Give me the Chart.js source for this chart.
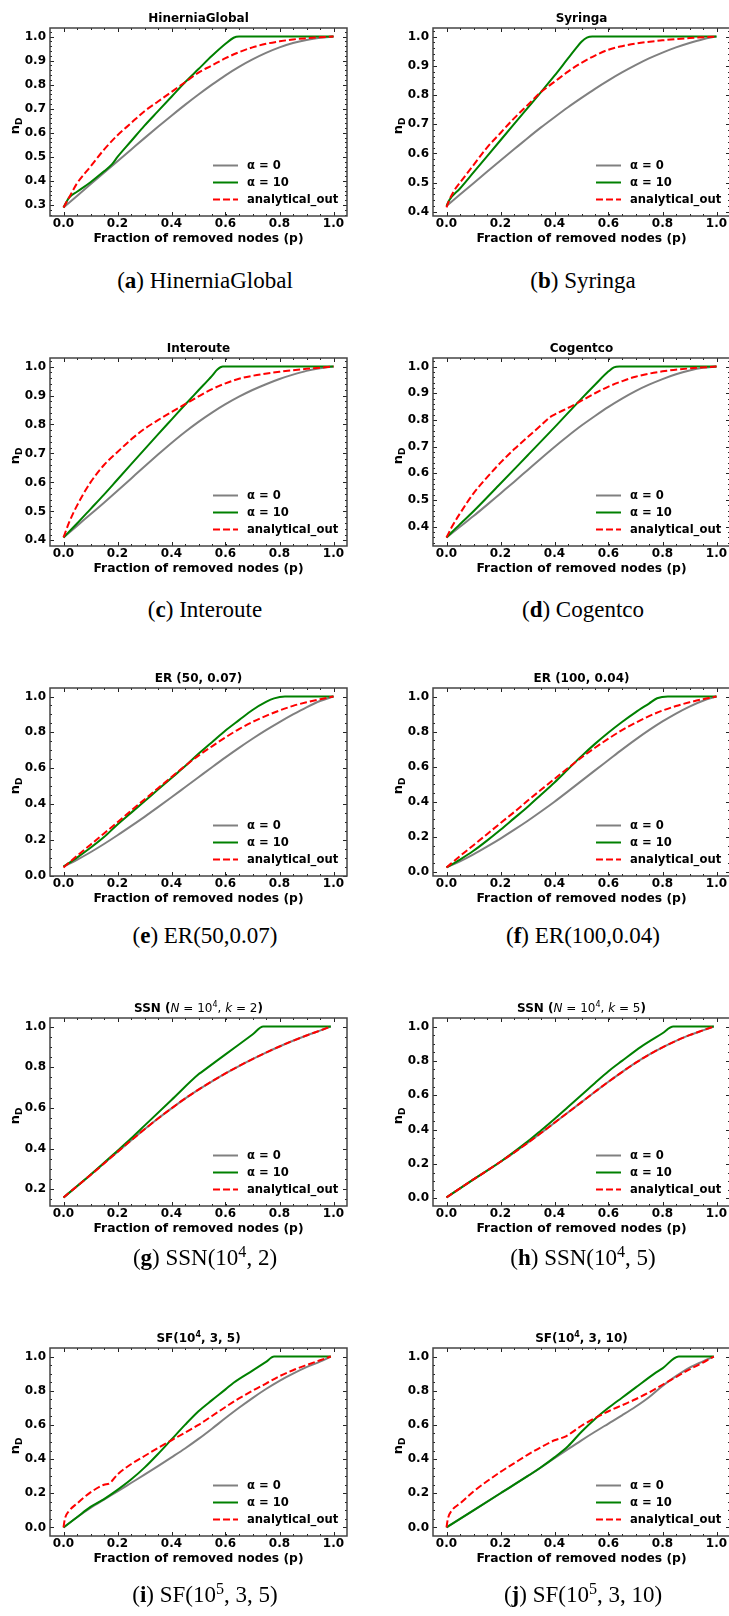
<!DOCTYPE html>
<html>
<head>
<meta charset="utf-8">
<script src="https://cdn.jsdelivr.net/npm/chart.js"></script>
<style>
  body { margin: 0; width: 729px; height: 1616px; overflow: hidden; background: #fff; position: relative; }
  canvas { position: absolute; }
  .cap { position: absolute; font-family: "Liberation Serif", "DejaVu Serif", serif; font-size: 23px; line-height: 24px;
         transform: translateX(-50%); white-space: nowrap; color: #000; }
  .cap sup { font-size: 0.7em; line-height: 0; vertical-align: 0.5em; }
</style>
</head>
<body>
<script>
// values: [p, n_D]
const hgA0 = [[0,0.29],[0.05,0.338],[0.1,0.386],[0.15,0.434],[0.2,0.482],[0.25,0.53],[0.3,0.578],[0.35,0.625],[0.4,0.671],[0.45,0.716],[0.5,0.759],[0.55,0.8],[0.6,0.839],[0.65,0.874],[0.7,0.905],[0.75,0.932],[0.8,0.955],[0.85,0.973],[0.9,0.986],[0.95,0.995],[1,1]];
const hgA10 = [[0,0.29],[0.02,0.33],[0.05,0.355],[0.1,0.395],[0.15,0.44],[0.18,0.47],[0.2,0.5],[0.25,0.565],[0.3,0.63],[0.35,0.69],[0.4,0.75],[0.45,0.81],[0.5,0.865],[0.55,0.92],[0.6,0.97],[0.63,0.995],[0.65,1],[1,1]];
const hgOut = [[0,0.29],[0.02,0.33],[0.05,0.39],[0.1,0.46],[0.15,0.53],[0.2,0.59],[0.25,0.64],[0.3,0.69],[0.35,0.73],[0.4,0.77],[0.45,0.81],[0.5,0.85],[0.55,0.88],[0.6,0.91],[0.65,0.935],[0.7,0.955],[0.75,0.97],[0.8,0.98],[0.85,0.988],[0.9,0.993],[0.95,0.997],[1,1]];

const syA0 = [[0,0.42],[0.05,0.459],[0.1,0.498],[0.15,0.537],[0.2,0.576],[0.25,0.614],[0.3,0.652],[0.35,0.689],[0.4,0.724],[0.45,0.758],[0.5,0.79],[0.55,0.821],[0.6,0.85],[0.65,0.877],[0.7,0.902],[0.75,0.925],[0.8,0.945],[0.85,0.963],[0.9,0.978],[0.95,0.991],[1,1]];
const syA10 = [[0,0.42],[0.01,0.44],[0.05,0.48],[0.1,0.535],[0.15,0.59],[0.2,0.645],[0.25,0.7],[0.3,0.755],[0.35,0.81],[0.4,0.866],[0.45,0.925],[0.48,0.96],[0.5,0.982],[0.52,0.996],[0.54,1],[1,1]];
const syOut = [[0,0.415],[0.01,0.44],[0.03,0.475],[0.05,0.5],[0.1,0.56],[0.15,0.62],[0.2,0.67],[0.25,0.72],[0.3,0.765],[0.35,0.81],[0.4,0.845],[0.45,0.88],[0.5,0.91],[0.55,0.935],[0.6,0.955],[0.65,0.967],[0.7,0.976],[0.8,0.987],[0.9,0.995],[1,1]];

const irA0 = [[0,0.41],[0.05,0.45],[0.1,0.49],[0.15,0.53],[0.2,0.571],[0.25,0.613],[0.3,0.655],[0.35,0.696],[0.4,0.736],[0.45,0.774],[0.5,0.809],[0.55,0.841],[0.6,0.87],[0.65,0.896],[0.7,0.919],[0.75,0.939],[0.8,0.957],[0.85,0.972],[0.9,0.985],[0.95,0.994],[1,1]];
const irA10 = [[0,0.41],[0.05,0.458],[0.1,0.508],[0.15,0.558],[0.2,0.61],[0.25,0.662],[0.3,0.714],[0.35,0.766],[0.4,0.817],[0.45,0.868],[0.5,0.918],[0.55,0.968],[0.57,0.99],[0.59,1],[1,1]];
const irOut = [[0,0.41],[0.02,0.46],[0.05,0.52],[0.1,0.6],[0.15,0.66],[0.2,0.705],[0.25,0.748],[0.3,0.785],[0.35,0.815],[0.4,0.843],[0.45,0.87],[0.5,0.897],[0.55,0.922],[0.6,0.942],[0.65,0.958],[0.7,0.968],[0.8,0.982],[0.9,0.992],[1,1]];

const cgA0 = [[0,0.36],[0.05,0.4],[0.1,0.44],[0.15,0.482],[0.2,0.525],[0.25,0.568],[0.3,0.612],[0.35,0.656],[0.4,0.699],[0.45,0.74],[0.5,0.779],[0.55,0.815],[0.6,0.849],[0.65,0.88],[0.7,0.908],[0.75,0.932],[0.8,0.953],[0.85,0.971],[0.9,0.985],[0.95,0.995],[1,1]];
const cgA10 = [[0,0.36],[0.05,0.41],[0.1,0.458],[0.2,0.562],[0.3,0.667],[0.4,0.772],[0.5,0.88],[0.55,0.932],[0.6,0.982],[0.62,0.997],[0.64,1],[1,1]];
const cgOut = [[0,0.36],[0.02,0.4],[0.05,0.45],[0.1,0.525],[0.15,0.585],[0.2,0.64],[0.25,0.69],[0.3,0.735],[0.35,0.78],[0.38,0.808],[0.4,0.82],[0.45,0.845],[0.5,0.872],[0.55,0.9],[0.6,0.925],[0.65,0.945],[0.7,0.962],[0.8,0.982],[0.9,0.993],[1,1]];

const er50A0 = [[0,0.05],[0.05,0.088],[0.1,0.13],[0.15,0.176],[0.2,0.225],[0.25,0.276],[0.3,0.328],[0.35,0.382],[0.4,0.437],[0.45,0.493],[0.5,0.549],[0.55,0.605],[0.6,0.66],[0.65,0.713],[0.7,0.764],[0.75,0.812],[0.8,0.857],[0.85,0.9],[0.9,0.94],[0.95,0.975],[1,1]];
const er50A10 = [[0,0.05],[0.05,0.1],[0.1,0.155],[0.15,0.215],[0.2,0.285],[0.25,0.35],[0.3,0.415],[0.35,0.48],[0.4,0.545],[0.45,0.61],[0.5,0.68],[0.55,0.745],[0.6,0.81],[0.65,0.868],[0.7,0.925],[0.75,0.97],[0.78,0.99],[0.82,1],[1,1]];
const er50Out = [[0,0.045],[0.05,0.11],[0.1,0.172],[0.15,0.235],[0.2,0.298],[0.25,0.362],[0.3,0.425],[0.35,0.488],[0.4,0.55],[0.45,0.612],[0.5,0.67],[0.55,0.722],[0.6,0.772],[0.65,0.818],[0.7,0.858],[0.75,0.892],[0.8,0.922],[0.85,0.948],[0.9,0.968],[0.95,0.985],[1,1]];

const er100A0 = [[0,0.025],[0.05,0.06],[0.1,0.1],[0.15,0.144],[0.2,0.19],[0.25,0.239],[0.3,0.29],[0.35,0.344],[0.4,0.4],[0.45,0.459],[0.5,0.519],[0.55,0.579],[0.6,0.638],[0.65,0.697],[0.7,0.754],[0.75,0.808],[0.8,0.858],[0.85,0.903],[0.9,0.943],[0.95,0.976],[1,1]];
const er100A10 = [[0,0.025],[0.05,0.07],[0.1,0.12],[0.15,0.178],[0.2,0.24],[0.25,0.305],[0.3,0.37],[0.35,0.44],[0.4,0.51],[0.45,0.585],[0.5,0.66],[0.55,0.73],[0.6,0.795],[0.65,0.855],[0.7,0.91],[0.75,0.96],[0.78,0.99],[0.82,1],[1,1]];
const er100Out = [[0,0.025],[0.05,0.09],[0.1,0.152],[0.15,0.215],[0.2,0.278],[0.25,0.34],[0.3,0.405],[0.35,0.468],[0.4,0.53],[0.45,0.592],[0.5,0.652],[0.55,0.708],[0.6,0.76],[0.65,0.808],[0.7,0.85],[0.75,0.888],[0.8,0.92],[0.85,0.946],[0.9,0.967],[0.95,0.985],[1,1]];

const ssn2A0 = [[0,0.16],[0.05,0.215],[0.1,0.27],[0.15,0.327],[0.2,0.384],[0.25,0.44],[0.3,0.495],[0.35,0.548],[0.4,0.598],[0.45,0.646],[0.5,0.69],[0.55,0.731],[0.6,0.77],[0.65,0.806],[0.7,0.84],[0.75,0.872],[0.8,0.902],[0.85,0.93],[0.9,0.956],[0.95,0.98],[0.99,1]];
const ssn2A10 = [[0,0.16],[0.1,0.272],[0.2,0.39],[0.25,0.45],[0.3,0.513],[0.4,0.639],[0.5,0.765],[0.51,0.775],[0.6,0.863],[0.7,0.961],[0.74,1],[0.99,1]];
const ssn2Out = [[0,0.16],[0.05,0.215],[0.1,0.27],[0.15,0.327],[0.2,0.384],[0.25,0.44],[0.3,0.495],[0.35,0.548],[0.4,0.598],[0.45,0.646],[0.5,0.69],[0.55,0.731],[0.6,0.77],[0.65,0.806],[0.7,0.84],[0.75,0.872],[0.8,0.902],[0.85,0.93],[0.9,0.956],[0.95,0.98],[0.99,1]];

const ssn5A0 = [[0,0.005],[0.05,0.058],[0.1,0.11],[0.15,0.161],[0.2,0.213],[0.25,0.266],[0.3,0.322],[0.35,0.38],[0.4,0.44],[0.45,0.5],[0.5,0.56],[0.55,0.62],[0.6,0.679],[0.65,0.735],[0.7,0.788],[0.75,0.836],[0.8,0.879],[0.85,0.917],[0.9,0.95],[0.95,0.978],[0.99,1]];
const ssn5A10 = [[0,0.005],[0.1,0.11],[0.2,0.213],[0.3,0.33],[0.35,0.395],[0.4,0.462],[0.45,0.532],[0.5,0.602],[0.55,0.672],[0.6,0.74],[0.65,0.8],[0.72,0.882],[0.8,0.961],[0.84,1],[0.99,1]];
const ssn5Out = [[0,0.005],[0.05,0.058],[0.1,0.11],[0.15,0.161],[0.2,0.213],[0.25,0.266],[0.3,0.322],[0.35,0.38],[0.4,0.44],[0.45,0.5],[0.5,0.56],[0.55,0.62],[0.6,0.679],[0.65,0.735],[0.7,0.788],[0.75,0.836],[0.8,0.879],[0.85,0.917],[0.9,0.95],[0.95,0.978],[0.99,1]];

const sf5A0 = [[0,0],[0.05,0.06],[0.1,0.114],[0.15,0.163],[0.2,0.211],[0.25,0.26],[0.3,0.309],[0.35,0.359],[0.4,0.41],[0.45,0.462],[0.5,0.518],[0.55,0.578],[0.6,0.64],[0.65,0.7],[0.7,0.757],[0.75,0.81],[0.8,0.858],[0.85,0.9],[0.9,0.938],[0.95,0.97],[0.99,1]];
const sf5A10 = [[0,0],[0.05,0.06],[0.1,0.12],[0.15,0.166],[0.2,0.22],[0.25,0.28],[0.3,0.35],[0.35,0.43],[0.4,0.515],[0.45,0.6],[0.5,0.68],[0.55,0.745],[0.6,0.808],[0.63,0.847],[0.7,0.918],[0.75,0.969],[0.78,1],[0.99,1]];
const sf5Out = [[0,0],[0.005,0.05],[0.02,0.095],[0.05,0.14],[0.1,0.205],[0.15,0.25],[0.17,0.258],[0.2,0.31],[0.25,0.37],[0.3,0.418],[0.35,0.465],[0.4,0.51],[0.45,0.555],[0.5,0.6],[0.55,0.652],[0.6,0.705],[0.65,0.755],[0.7,0.8],[0.75,0.842],[0.8,0.885],[0.85,0.92],[0.9,0.95],[0.95,0.978],[0.99,1]];

const sf10A0 = [[0,0],[0.1,0.1],[0.2,0.2],[0.3,0.3],[0.35,0.352],[0.4,0.405],[0.45,0.458],[0.5,0.51],[0.55,0.56],[0.6,0.608],[0.65,0.656],[0.7,0.706],[0.75,0.762],[0.8,0.828],[0.85,0.885],[0.9,0.935],[0.95,0.972],[0.99,1]];
const sf10A10 = [[0,0],[0.1,0.1],[0.2,0.2],[0.3,0.3],[0.35,0.352],[0.4,0.41],[0.45,0.475],[0.5,0.56],[0.55,0.635],[0.6,0.7],[0.65,0.759],[0.7,0.818],[0.77,0.9],[0.8,0.931],[0.86,1],[0.99,1]];
const sf10Out = [[0,0],[0.005,0.05],[0.02,0.1],[0.05,0.14],[0.1,0.21],[0.15,0.27],[0.2,0.325],[0.25,0.375],[0.3,0.425],[0.35,0.47],[0.4,0.51],[0.44,0.532],[0.5,0.595],[0.55,0.64],[0.6,0.68],[0.65,0.715],[0.7,0.75],[0.75,0.79],[0.8,0.835],[0.85,0.88],[0.9,0.925],[0.95,0.965],[0.99,1]];

const seriesLabels = ["\u03b1 = 0", "\u03b1 = 10", "analytical_out"];
const xTicks = [0, 0.2, 0.4, 0.6, 0.8, 1.0];
const yTicksA = [0.3, 0.4, 0.5, 0.6, 0.7, 0.8, 0.9, 1.0];
const yTicksB = [0.4, 0.5, 0.6, 0.7, 0.8, 0.9, 1.0];
const yTicksG = [0.2, 0.4, 0.6, 0.8, 1.0];
const yTicksE = [0.0, 0.2, 0.4, 0.6, 0.8, 1.0];

// layout
const colLeft = [0, 383];
const axesTop = [28, 358, 688, 1018, 1348];
const capY = [281, 610, 936, 1258, 1595];
const capX = [205, 583];
const padTop = 28, plotH = 188, xBand = 44, yBand = 50, padRight = 18;
const FONT = '"DejaVu Sans"';

const panels = [
  { row: 0, col: 0, title: [["HinerniaGlobal", "b"]], yTicks: yTicksA, yMinor: 0.02, lines: [hgA0, hgA10, hgOut], cap: "(<b>a</b>) HinerniaGlobal" },
  { row: 0, col: 1, title: [["Syringa", "b"]], yTicks: yTicksB, yMinor: 0.02, lines: [syA0, syA10, syOut], cap: "(<b>b</b>) Syringa" },
  { row: 1, col: 0, title: [["Interoute", "b"]], yTicks: yTicksB, yMinor: 0.02, lines: [irA0, irA10, irOut], cap: "(<b>c</b>) Interoute" },
  { row: 1, col: 1, title: [["Cogentco", "b"]], yTicks: yTicksB, yMinor: 0.02, lines: [cgA0, cgA10, cgOut], cap: "(<b>d</b>) Cogentco" },
  { row: 2, col: 0, title: [["ER (50, 0.07)", "b"]], yTicks: yTicksE, yMinor: 0.05, lines: [er50A0, er50A10, er50Out], cap: "(<b>e</b>) ER(50,0.07)" },
  { row: 2, col: 1, title: [["ER (100, 0.04)", "b"]], yTicks: yTicksE, yMinor: 0.05, lines: [er100A0, er100A10, er100Out], cap: "(<b>f</b>) ER(100,0.04)" },
  { row: 3, col: 0, title: [["SSN (", "b"], ["N", "i"], [" = 10", ""], ["4", "^"], [", ", ""], ["k", "i"], [" = 2", ""], [")", "b"]],
    yTicks: yTicksG, yMinor: 0.05, lines: [ssn2A0, ssn2A10, ssn2Out], cap: "(<b>g</b>) SSN(10<sup>4</sup>, 2)" },
  { row: 3, col: 1, title: [["SSN (", "b"], ["N", "i"], [" = 10", ""], ["4", "^"], [", ", ""], ["k", "i"], [" = 5", ""], [")", "b"]],
    yTicks: yTicksE, yMinor: 0.05, lines: [ssn5A0, ssn5A10, ssn5Out], cap: "(<b>h</b>) SSN(10<sup>4</sup>, 5)" },
  { row: 4, col: 0, title: [["SF(10", "b"], ["4", "b^"], [", 3, 5)", "b"]], yTicks: yTicksE, yMinor: 0.05, lines: [sf5A0, sf5A10, sf5Out], cap: "(<b>i</b>) SF(10<sup>5</sup>, 3, 5)" },
  { row: 4, col: 1, title: [["SF(10", "b"], ["4", "b^"], [", 3, 10)", "b"]], yTicks: yTicksE, yMinor: 0.05, lines: [sf10A0, sf10A10, sf10Out], cap: "(<b>j</b>) SF(10<sup>5</sup>, 3, 10)" },
];

const lineStyles = [
  { borderColor: "#808080", borderDash: [], order: 2 },
  { borderColor: "#008000", borderDash: [], order: 1 },
  { borderColor: "#ff0000", borderDash: [7, 3], order: 0 },
];

function fontOf(f, size) {
  const small = f.includes("^") || f.includes("_");
  return (f.includes("i") ? "italic " : "") + (f.includes("b") ? "bold " : "") + (small ? Math.round(size * 0.7) : size) + "px " + FONT;
}

function drawRich(ctx, segs, cx, cy, size) {
  let w = 0;
  segs.forEach(([t, f]) => { ctx.font = fontOf(f, size); w += ctx.measureText(t).width; });
  let x = cx - w / 2;
  ctx.textAlign = "left";
  ctx.textBaseline = "middle";
  segs.forEach(([t, f]) => {
    ctx.font = fontOf(f, size);
    const dy = f.includes("^") ? -size * 0.38 : f.includes("_") ? size * 0.28 : 0;
    ctx.fillText(t, x, cy + dy);
    x += ctx.measureText(t).width;
  });
}

function minorValues(min, max, step) {
  const out = [];
  for (let k = Math.ceil(min / step - 1e-6); k * step <= max + 1e-9; k++) {
    const v = k * step;
    if (v > min + 0.003 && v < max - 0.003) out.push(v);
  }
  return out;
}

const decor = {
  id: "decor",
  afterDraw(chart, args, o) {
    const { ctx, chartArea: a, scales: { x, y } } = chart;
    ctx.save();
    // inward ticks on all four sides
    ctx.strokeStyle = "#222";
    ctx.lineWidth = 1;
    const marks = (xs, ys, len) => {
      ctx.beginPath();
      xs.forEach(v => {
        const px = Math.round(x.getPixelForValue(v)) + 0.5;
        ctx.moveTo(px, a.bottom); ctx.lineTo(px, a.bottom - len);
        ctx.moveTo(px, a.top); ctx.lineTo(px, a.top + len);
      });
      ys.forEach(v => {
        const py = Math.round(y.getPixelForValue(v)) + 0.5;
        ctx.moveTo(a.left, py); ctx.lineTo(a.left + len, py);
        ctx.moveTo(a.right, py); ctx.lineTo(a.right - len, py);
      });
      ctx.stroke();
    };
    marks(minorValues(x.min, x.max, 0.05), minorValues(y.min, y.max, o.yMinor), 2);
    marks(xTicks, o.yTicks, 4);
    // frame
    ctx.strokeStyle = "#444";
    ctx.lineWidth = 1.5;
    ctx.strokeRect(a.left, a.top, a.right - a.left, a.bottom - a.top);

    ctx.fillStyle = "#000";
    const cx = (a.left + a.right) / 2;
    drawRich(ctx, o.title, cx, a.top - 9, 12);
    drawRich(ctx, [["Fraction of removed nodes (p)", "b"]], cx, a.bottom + 23, 12.3);
    ctx.save();
    ctx.translate(a.left - 34, (a.top + a.bottom) / 2 + 4);
    ctx.rotate(-Math.PI / 2);
    drawRich(ctx, [["n", "b"], ["D", "b_"]], 0, 0, 13);
    ctx.restore();

    // legend, lower right inside the axes
    chart.data.datasets.forEach((ds, i) => {
      const ly = Math.round(a.bottom - 51 + 17 * i) + 0.5;
      ctx.strokeStyle = ds.borderColor;
      ctx.lineWidth = 2;
      ctx.setLineDash(ds.borderDash);
      ctx.beginPath();
      ctx.moveTo(a.right - 134, ly);
      ctx.lineTo(a.right - 109, ly);
      ctx.stroke();
      ctx.setLineDash([]);
      ctx.font = "bold 11.6px " + FONT;
      ctx.textAlign = "left";
      ctx.textBaseline = "middle";
      ctx.fillText(ds.label, a.right - 100, ly);
    });
    ctx.restore();
  }
};

Chart.defaults.font.family = FONT;
Chart.defaults.color = "#000";

panels.forEach(p => {
  const cv = document.createElement("canvas");
  cv.width = yBand + 297 + padRight;
  cv.height = padTop + plotH + xBand;
  cv.style.left = colLeft[p.col] + "px";
  cv.style.top = (axesTop[p.row] - padTop) + "px";
  document.body.appendChild(cv);

  const ys = p.lines.flat().map(d => d[1]);
  const lo = Math.min(...ys), hi = Math.max(...ys);
  const m = 0.05 * (hi - lo);

  const tickFont = { family: FONT, weight: "bold", size: 12 };
  new Chart(cv, {
    type: "line",
    data: {
      datasets: p.lines.map((pts, i) => ({
        label: seriesLabels[i],
        data: pts.map(([px, py]) => ({ x: px, y: py })),
        borderWidth: 2,
        pointRadius: 0,
        fill: false,
        cubicInterpolationMode: "monotone",
        ...lineStyles[i],
      })),
    },
    options: {
      responsive: false,
      animation: false,
      devicePixelRatio: 1,
      layout: { padding: { top: padTop, right: padRight, left: 0, bottom: 0 } },
      plugins: {
        legend: { display: false },
        tooltip: { enabled: false },
        decor: { title: p.title, yTicks: p.yTicks, yMinor: p.yMinor },
      },
      scales: {
        x: {
          type: "linear", min: -0.05, max: 1.05,
          grid: { display: false, drawTicks: false }, border: { display: false },
          afterBuildTicks: s => { s.ticks = xTicks.map(v => ({ value: v })); },
          afterFit: s => { s.height = xBand; },
          ticks: { padding: 1, autoSkip: false, maxRotation: 0, font: tickFont, callback: v => v.toFixed(1) },
        },
        y: {
          type: "linear", min: lo - m, max: hi + m,
          grid: { display: false, drawTicks: false }, border: { display: false },
          afterBuildTicks: s => { s.ticks = p.yTicks.map(v => ({ value: v })); },
          afterFit: s => { s.width = yBand; },
          ticks: { padding: 4, autoSkip: false, font: tickFont, callback: v => v.toFixed(1) },
        },
      },
    },
    plugins: [decor],
  });

  const cap = document.createElement("div");
  cap.className = "cap";
  cap.innerHTML = p.cap;
  cap.style.left = capX[p.col] + "px";
  cap.style.top = (capY[p.row] - 12) + "px";
  document.body.appendChild(cap);
});
</script>
</body>
</html>
